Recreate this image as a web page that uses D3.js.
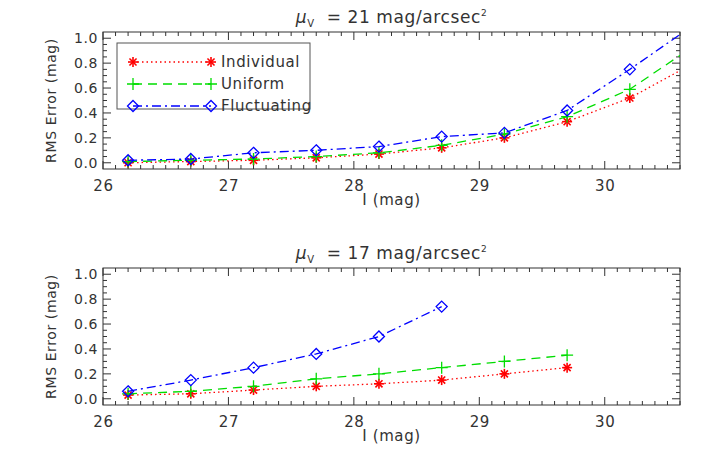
<!DOCTYPE html><html><head><meta charset="utf-8">
<script src="https://cdn.jsdelivr.net/npm/d3@7"></script>
<style>body{margin:0;background:#fff}text{font-family:"DejaVu Sans",sans-serif;fill:#333;letter-spacing:0.6px}</style></head><body>
<svg id="c" width="709" height="472"></svg>
<script>
const xTop=[26.2,26.7,27.2,27.7,28.2,28.7,29.2,29.7,30.2,30.7];
const indTop=[0.00,0.01,0.02,0.04,0.07,0.12,0.20,0.33,0.52,0.795];
const uniTop=[0.01,0.02,0.03,0.05,0.08,0.14,0.23,0.37,0.59,0.93];
const flTop=[0.02,0.03,0.08,0.10,0.13,0.21,0.24,0.42,0.75,1.10];
const xBot=[26.2,26.7,27.2,27.7,28.2,28.7,29.2,29.7];
const indBot=[0.03,0.04,0.07,0.10,0.12,0.15,0.20,0.25];
const uniBot=[0.04,0.06,0.10,0.16,0.20,0.25,0.30,0.35];
const flBot=[0.06,0.15,0.25,0.36,0.50,0.74];
const xTicks=[26,27,28,29,30];
const yTicks=[0,0.2,0.4,0.6,0.8,1.0];
const seriesNames=["Individual","Uniform","Fluctuating"];
const colors=["#ff0000","#00dd00","#0000ff"];
const dashes=["1.5,3","9,6","9,4,2,4"];
const svg=d3.select("#c");
const L=103,R=680;
function marker(g,type,x,y,col){
  if(type===0){for(let a=0;a<4;a++){const ang=a*Math.PI/4;g.append("line").attr("x1",x-5*Math.cos(ang)).attr("y1",y-5*Math.sin(ang)).attr("x2",x+5*Math.cos(ang)).attr("y2",y+5*Math.sin(ang)).attr("stroke",col).attr("stroke-width",1.6);}}
  else if(type===1){g.append("path").attr("d",`M${x-6},${y}H${x+6}M${x},${y-6}V${y+6}`).attr("stroke",col).attr("stroke-width",1.3);}
  else {g.append("path").attr("d",`M${x},${y-5.5}L${x+5.5},${y}L${x},${y+5.5}L${x-5.5},${y}Z`).attr("fill","none").attr("stroke",col).attr("stroke-width",1.3);}
}
function panel(top,bottom,title,xs,data,legend){
  const x=d3.scaleLinear().domain([26,30.6]).range([L,R]);
  const y=d3.scaleLinear().domain([-0.05,1.05]).range([bottom,top]);
  const g=svg.append("g");
  const cid="clip"+top;
  svg.append("clipPath").attr("id",cid).append("rect").attr("x",L).attr("y",top).attr("width",R-L).attr("height",bottom-top);
  const ax=g.append("g").attr("transform",`translate(0,${bottom})`).call(d3.axisBottom(x).tickValues(xTicks).tickFormat(d3.format("d")).tickSize(0).tickPadding(11));
  ax.select(".domain").remove();ax.selectAll("text").attr("font-size",15);
  const ay=g.append("g").attr("transform",`translate(${L},0)`).call(d3.axisLeft(y).tickValues(yTicks).tickFormat(d3.format(".1f")).tickSize(0).tickPadding(5));
  ay.select(".domain").remove();ay.selectAll("text").attr("font-size",14);
  const tk=g.append("g").attr("stroke","#333").attr("stroke-width",1);
  d3.range(26,30.61,0.1).forEach(v=>{const mj=Math.abs(v-Math.round(v))<1e-6,len=mj?8:4;const px=x(v);
    tk.append("line").attr("x1",px).attr("x2",px).attr("y1",bottom).attr("y2",bottom-len);
    tk.append("line").attr("x1",px).attr("x2",px).attr("y1",top).attr("y2",top+len);});
  d3.range(0,1.001,0.05).forEach((v,i)=>{const len=i%4===0?8:4;const py=y(v);
    tk.append("line").attr("x1",L).attr("x2",L+len).attr("y1",py).attr("y2",py);
    tk.append("line").attr("x1",R).attr("x2",R-len).attr("y1",py).attr("y2",py);});
  g.append("rect").attr("x",L).attr("y",top).attr("width",R-L).attr("height",bottom-top).attr("fill","none").attr("stroke","#333");
  const pg=g.append("g").attr("clip-path",`url(#${cid})`);
  data.forEach((d,i)=>{
    const pts=d.map((v,j)=>[x(xs[j]),y(v)]);
    pg.append("path").attr("d",d3.line()(pts)).attr("fill","none").attr("stroke",colors[i]).attr("stroke-width",1.3).attr("stroke-dasharray",dashes[i]);
    pts.forEach(p=>{if(p[0]<=R)marker(pg,i,p[0],p[1],colors[i]);});
  });
  const t=g.append("text").attr("x",(L+R)/2).attr("y",top-9).attr("text-anchor","middle").attr("font-size",17).attr("letter-spacing","1px");
  t.append("tspan").text("μ").attr("font-style","italic");
  t.append("tspan").text("V").attr("font-size",10).attr("dy",4);
  t.append("tspan").text("\u00a0=\u00a021\u00a0mag/arcsec".replace("21",title)).attr("dy",-4).attr("dx",6);
  t.append("tspan").text("2").attr("font-size",9).attr("dy",-7);
  g.append("text").attr("x",(L+R)/2).attr("y",bottom+36).attr("text-anchor","middle").attr("font-size",15).text("I (mag)");
  g.append("text").attr("transform",`translate(56,${(top+bottom)/2}) rotate(-90)`).attr("text-anchor","middle").attr("font-size",14).text("RMS Error (mag)");
  if(legend){
    const lg=g.append("g");
    lg.append("rect").attr("x",117).attr("y",43).attr("width",193).attr("height",66).attr("fill","#fff").attr("stroke","#555");
    seriesNames.forEach((n,i)=>{const yy=62+i*22;
      lg.append("line").attr("x1",133).attr("x2",211).attr("y1",yy).attr("y2",yy).attr("stroke",colors[i]).attr("stroke-width",1.3).attr("stroke-dasharray",dashes[i]);
      marker(lg,i,133,yy,colors[i]);marker(lg,i,211,yy,colors[i]);
      lg.append("text").attr("x",221).attr("y",yy+5).attr("font-size",15).text(n);});
  }
}
panel(32,169,"21",xTop,[indTop,uniTop,flTop],true);
panel(268,405,"17",xBot,[indBot,uniBot,flBot],false);
</script></body></html>
